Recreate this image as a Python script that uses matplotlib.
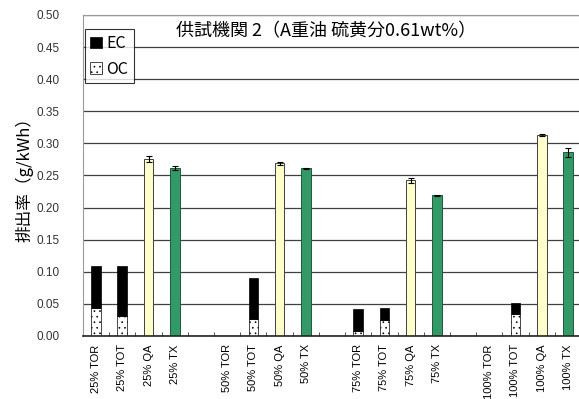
import numpy as np
import matplotlib
matplotlib.use('Agg')
import matplotlib.pyplot as plt

plt.rcParams['font.family'] = ['Noto Sans CJK JP', 'DejaVu Sans']
plt.rcParams['hatch.linewidth'] = 0.45

# categories ('' = empty slot between load groups)
labels = ['25% TOR', '25% TOT', '25% QA', '25% TX', '',
          '50% TOR', '50% TOT', '50% QA', '50% TX', '',
          '75% TOR', '75% TOT', '75% QA', '75% TX', '',
          '100% TOR', '100% TOT', '100% QA', '100% TX']

# carbon fractions (g/kWh)
oc = [0.043, 0.031, 0, 0, 0,
      0, 0.026, 0, 0, 0,
      0.007, 0.025, 0, 0, 0,
      0, 0.034, 0, 0]
ec = [0.066, 0.078, 0, 0, 0,
      0, 0.065, 0, 0, 0,
      0.035, 0.018, 0, 0, 0,
      0, 0.018, 0, 0]

# total PM by the two other methods
qa_idx = [2, 7, 12, 17]
qa_val = [0.276, 0.269, 0.2425, 0.313]
qa_err = [0.005, 0.002, 0.004, 0.002]
tx_idx = [3, 8, 13, 18]
tx_val = [0.262, 0.261, 0.219, 0.286]
tx_err = [0.003, 0.001, 0.001, 0.007]

fig = plt.figure(figsize=(5.79, 3.99), dpi=100)
ax = fig.add_axes([0.1434, 0.158, 0.860, 0.8045])

x = np.arange(len(labels))
w = 0.37

ax.set_axisbelow(True)
ax.yaxis.grid(True, color='#404040', linewidth=0.9)

ax.bar(x, oc, w, color='white', edgecolor='black', hatch='...', linewidth=0.5, label='OC')
ax.bar(x, ec, w, bottom=oc, color='black', edgecolor='black', linewidth=0.5, label='EC')
ax.bar(qa_idx, qa_val, w, yerr=qa_err, color='#FFFFCC', edgecolor='#404040', linewidth=0.7,
       error_kw=dict(ecolor='black', elinewidth=0.8, capsize=2.5, capthick=0.8))
ax.bar(tx_idx, tx_val, w, yerr=tx_err, color='#339966', edgecolor='#1e5a3c', linewidth=0.7,
       error_kw=dict(ecolor='black', elinewidth=0.8, capsize=2.5, capthick=0.8))

ax.set_xlim(-0.5, len(labels) - 0.5)
ax.set_ylim(0, 0.5)
ax.set_yticks(np.arange(0, 0.51, 0.05))
ax.set_yticklabels(['%.2f' % v for v in np.arange(0, 0.51, 0.05)], fontsize=8.5,
                   family=['Liberation Sans', 'DejaVu Sans'])
ax.tick_params(axis='y', length=0, pad=17, colors='#333333')

ax.set_xticks(x)
ax.set_xticklabels(labels, rotation=90, fontsize=8, family=['Liberation Sans', 'DejaVu Sans'],
                   va='top')
ax.tick_params(axis='x', which='major', length=0, pad=6)
ax.set_xticks(np.arange(-0.5, len(labels), 1), minor=True)
ax.tick_params(axis='x', which='minor', direction='in', length=3, color='#333333')

for s in ['top', 'left', 'right']:
    ax.spines[s].set_color('#999999')
ax.spines['bottom'].set_color('#222222')
ax.spines['bottom'].set_linewidth(1.2)

ax.set_ylabel('排出率（g/kWh）', fontsize=12, labelpad=2)

ax.text(3.05, 0.475, '供試機関 2（A重油 硫黄分0.61wt%）', fontsize=13, va='center', ha='left')

h, l = ax.get_legend_handles_labels()
leg = ax.legend(h[::-1], l[::-1], loc='upper left', bbox_to_anchor=(0.003, 0.955),
                fontsize=11.5, frameon=True, fancybox=False, edgecolor='black',
                handlelength=0.75, handleheight=0.75, handletextpad=0.25,
                borderpad=0.35, labelspacing=0.55, borderaxespad=0)
leg.get_frame().set_linewidth(0.8)

fig.savefig('out.png', dpi=100)
